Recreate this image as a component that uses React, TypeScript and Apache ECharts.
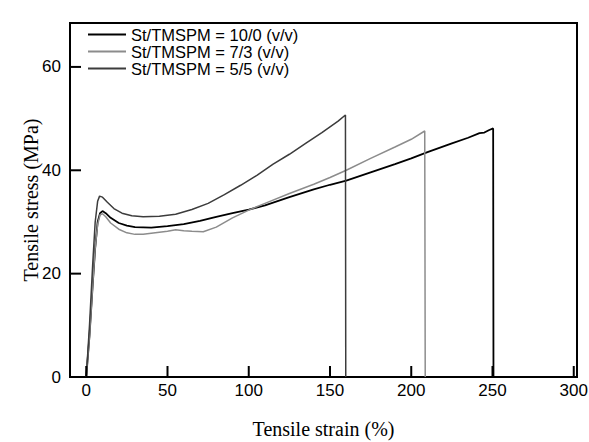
import React, { useEffect, useRef } from "react";
import * as echarts from "echarts";

const seriesNames = ["St/TMSPM = 10/0 (v/v)", "St/TMSPM = 7/3 (v/v)", "St/TMSPM = 5/5 (v/v)"];
const seriesColors = ["#000000", "#8c8c8c", "#3c3c3c"];

const data100: number[][] = [
  [0, 0], [2, 8], [4, 18], [5.5, 25], [7, 30], [8.5, 31.7], [10, 32.1], [12, 31.7], [15, 30.8],
  [20, 29.8], [25, 29.3], [30, 29], [40, 28.9], [50, 29.2], [60, 29.6], [70, 30.2], [80, 31],
  [90, 31.7], [100, 32.4], [110, 33.2], [125, 34.8], [140, 36.3], [150, 37.2], [160, 38],
  [175, 39.6], [190, 41.2], [200, 42.3], [210, 43.5], [225, 45.2], [235, 46.3], [242, 47.2],
  [245, 47.3], [248, 47.8], [250.4, 48.1], [250.6, 0],
];

const data73: number[][] = [
  [0, 0], [2, 8], [4, 18], [5.5, 25], [7, 29.5], [8.5, 31.4], [10, 31.6], [12, 31], [15, 29.8],
  [20, 28.6], [25, 27.9], [30, 27.6], [35, 27.6], [40, 27.8], [50, 28.2], [55, 28.5], [60, 28.3],
  [65, 28.2], [72, 28.1], [80, 29], [90, 30.8], [100, 32.3], [110, 33.6], [125, 35.5],
  [140, 37.3], [150, 38.6], [160, 40], [175, 42.3], [190, 44.5], [200, 46], [208.3, 47.6],
  [208.6, 0],
];

const data55: number[][] = [
  [0, 0], [2, 10], [4, 22], [5.5, 30], [7, 34], [8.2, 35], [10, 34.8], [13, 33.8], [17, 32.6],
  [22, 31.7], [28, 31.2], [35, 31], [45, 31.1], [55, 31.5], [65, 32.4], [75, 33.6], [85, 35.3],
  [95, 37.1], [105, 39], [115, 41.2], [125, 43.1], [135, 45.2], [145, 47.3], [155, 49.5],
  [159.5, 50.7], [159.7, 0],
];

const xTicks = [0, 50, 100, 150, 200, 250, 300];
const yTicks = [0, 20, 40, 60];
const X_MIN = -10;
const X_MAX = 302;
const Y_MIN = 0;
const Y_MAX = 68.5;

export default function App() {
  const ref = useRef<HTMLDivElement>(null);
  useEffect(() => {
    if (!ref.current) return;
    document.body.style.margin = "0";
    const chart = echarts.init(ref.current, null, { renderer: "svg" });
    const allData = [data100, data73, data55];
    const TICK_LEN = 11;

    chart.setOption({
      animation: false,
      backgroundColor: "#ffffff",
      grid: {
        left: 70,
        right: 12,
        top: 23,
        bottom: 65,
        outerBoundsMode: "none",
        containLabel: false,
        show: true,
        borderColor: "#000",
        borderWidth: 2,
        backgroundColor: "transparent",
      },
      legend: {
        data: seriesNames,
        orient: "vertical",
        left: 82,
        top: 21,
        itemWidth: 38,
        itemHeight: 17,
        itemGap: 0,
        itemStyle: { opacity: 0 },
        textStyle: { fontFamily: "Liberation Sans", fontSize: 16.5, color: "#000" },
      },
      xAxis: {
        type: "value",
        min: X_MIN,
        max: X_MAX,
        name: "Tensile strain (%)",
        nameLocation: "middle",
        nameGap: 42,
        nameMoveOverlap: false,
        nameTextStyle: { fontFamily: "Liberation Serif", fontSize: 20, fontWeight: "normal", color: "#000" },
        axisLine: { show: false, onZero: false },
        axisTick: { show: false },
        axisLabel: {
          fontFamily: "Liberation Sans",
          fontSize: 17,
          color: "#000",
          margin: 5,
          customValues: xTicks,
        },
        splitLine: { show: false },
      },
      yAxis: {
        type: "value",
        min: Y_MIN,
        max: Y_MAX,
        name: "Tensile stress (MPa)",
        nameLocation: "middle",
        nameGap: 29,
        nameMoveOverlap: false,
        nameTextStyle: { fontFamily: "Liberation Serif", fontSize: 20, fontWeight: "normal", color: "#000" },
        axisLine: { show: false, onZero: false },
        axisTick: { show: false },
        axisLabel: {
          fontFamily: "Liberation Sans",
          fontSize: 17,
          color: "#000",
          margin: 9,
          customValues: yTicks,
        },
        splitLine: { show: false },
      },
      series: seriesNames.map((name, i) => ({
        name,
        type: "line",
        data: allData[i],
        showSymbol: false,
        symbol: "none",
        smooth: false,
        color: seriesColors[i],
        lineStyle: { color: seriesColors[i], width: i === 0 ? 1.8 : 1.5 },
      })),
    });

    // Tick marks placed through the chart's own scales (inward ticks)
    const tickElements: any[] = [];
    xTicks.forEach((v) => {
      const p = chart.convertToPixel({ gridIndex: 0 }, [v, Y_MIN]) as number[];
      tickElements.push({
        type: "line",
        z: 100,
        silent: true,
        shape: { x1: p[0], y1: p[1], x2: p[0], y2: p[1] - TICK_LEN },
        style: { stroke: "#000", lineWidth: 2 },
      });
    });
    yTicks.forEach((v) => {
      const p = chart.convertToPixel({ gridIndex: 0 }, [X_MIN, v]) as number[];
      tickElements.push({
        type: "line",
        z: 100,
        silent: true,
        shape: { x1: p[0], y1: p[1], x2: p[0] + TICK_LEN, y2: p[1] },
        style: { stroke: "#000", lineWidth: 2 },
      });
    });
    chart.setOption({ graphic: { elements: tickElements } });

    return () => chart.dispose();
  }, []);
  return <div ref={ref} style={{ width: 589, height: 442 }} />;
}
